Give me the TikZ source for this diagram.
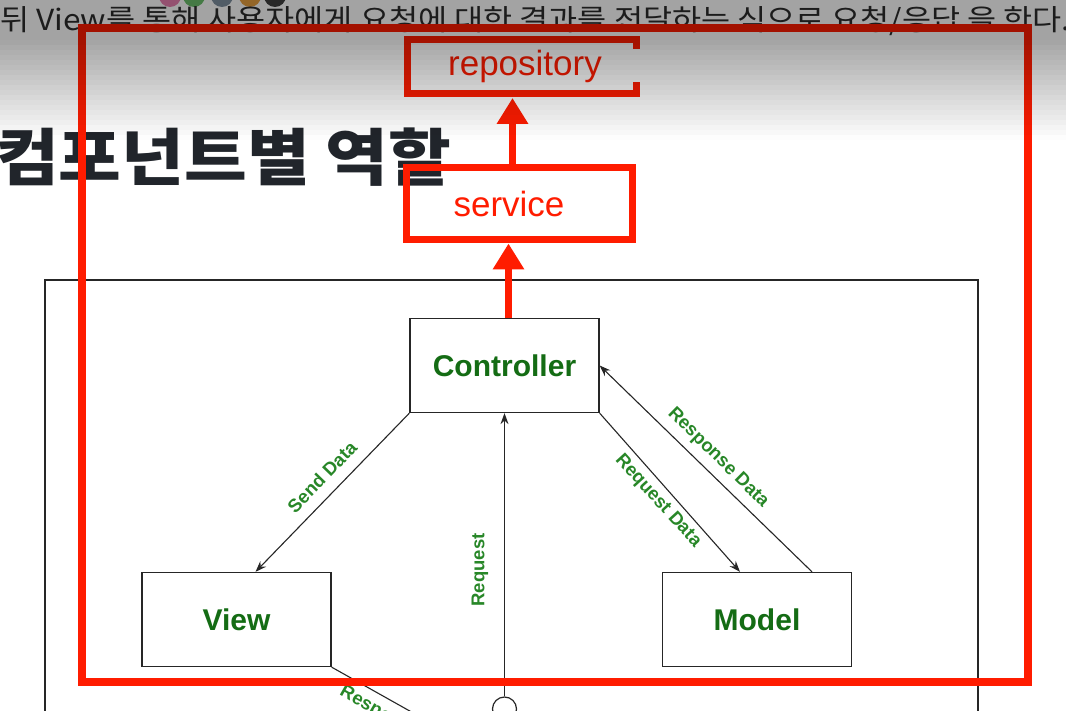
\documentclass[tikz,border=0pt]{standalone}
\usepackage{fontspec}
\setmainfont{Liberation Sans}
\newfontfamily\kr{Noto Sans CJK KR}
\usetikzlibrary{arrows.meta}
\definecolor{annred}{RGB}{255,28,0}
\definecolor{mvcgreen}{RGB}{20,108,20}
\definecolor{lblgreen}{RGB}{40,135,40}
\definecolor{headc}{RGB}{33,37,43}
\definecolor{introc}{RGB}{45,45,45}
\definecolor{dotA}{RGB}{232,127,176}
\definecolor{dotB}{RGB}{108,191,108}
\definecolor{dotC}{RGB}{128,144,160}
\definecolor{dotD}{RGB}{232,160,64}
\definecolor{dotE}{RGB}{64,64,64}
\tikzset{
  mvcbox/.style={draw=black!85, line width=1.3pt, fill=white, minimum width=189pt,
    minimum height=94pt, font=\bfseries\fontsize{30}{36}\selectfont, text=mvcgreen},
  conn/.style={draw=black!85, line width=1.1pt, -{Stealth[length=11pt,width=8pt]}},
  plainconn/.style={draw=black!85, line width=1.1pt},
  lbl/.style={font=\bfseries\fontsize{18.5}{21}\selectfont, text=lblgreen, inner sep=0pt},
  redbox/.style={draw=annred, line width=7pt, minimum width=226pt, minimum height=72pt,
    font=\fontsize{35}{40}\selectfont, text=annred},
  redtext/.style={font=\fontsize{35}{40}\selectfont, text=annred},
  redarrow/.style={draw=annred, line width=7pt, -{Triangle[length=26pt,width=30pt]}},
}
\begin{document}
\begin{tikzpicture}[x=1pt,y=-1pt]
\useasboundingbox (0,0) rectangle (1066,711);
\clip (0,0) rectangle (1066,711);
\fill[white] (0,0) rectangle (1066,711);

% browser decorations at top
\fill[dotA] (170,-4) circle (11pt);
\fill[dotB] (194,-4) circle (11pt);
\fill[dotC] (222,-4) circle (11pt);
\fill[dotD] (250,-4) circle (11pt);
\fill[dotE] (275,-4) circle (11pt);

% page text
\node[anchor=base west, inner sep=0pt, xscale=1.09, font=\kr\fontsize{29}{31}\selectfont, text=introc] (intro) at (0,31)
  {뒤 View를 통해 사용자에게 요청에 대한 결과를 전달하는 식으로 요청/응답 을 한다.};
\node[anchor=base west, inner sep=0pt, xscale=1.1, font=\kr\bfseries\fontsize{62}{70}\selectfont, text=headc] (title) at (-4,181)
  {컴포넌트별 역할};

% MVC frame
\draw[line width=1.2pt, black!85] (45,730) -- (45,280) -- (978,280) -- (978,730);

\node[mvcbox] (ctrl) at (504.5,365.5) {Controller};
\node[mvcbox] (view) at (236.5,619.5) {View};
\node[mvcbox] (model) at (757,619.5) {Model};
\node[circle, draw=black!85, line width=1.2pt, minimum size=24pt, inner sep=0pt] (circ) at (504.5,709) {};

\draw[conn] (ctrl.south west) -- ([xshift=19pt]view.north);
\draw[conn] (circ.north) -- (ctrl.south);
\draw[conn] (ctrl.south east) -- ([xshift=-17pt]model.north);
\draw[conn] ([xshift=55pt]model.north) -- (ctrl.east);
\coordinate (respEnd) at (440,728);
\draw[plainconn] (view.south east) -- (respEnd);

\node[lbl, rotate=46] (lsend) at (322,477) {Send Data};
\node[lbl, rotate=90] (lreq) at (480,570) {Request};
\node[lbl, rotate=-47.7] (lreqd) at (658,501) {Request Data};
\node[lbl, rotate=-44.6] (lresp) at (718,458) {Response Data};
\node[lbl, rotate=-30, anchor=west] (lresp2) at (341,691) {Response};

% red annotations
\draw[annred, line width=8pt] (82,28) rectangle (1028,682);
\node[redbox] (svc) at (519,204) {service\hspace*{20pt}};
\node[redtext] (repo) at (525,66) {repository};
\draw[annred, line width=7pt] (636,49) -- (636,40) -- (407,40) -- (407,94) -- (636,94) -- (636,82);
\coordinate (repoB) at (512.5,98);
\draw[redarrow] ([xshift=4pt]ctrl.north) -- ([xshift=-10.5pt]svc.south);
\draw[redarrow] ([xshift=-6.5pt]svc.north) -- (repoB);

% screen shading at top
\foreach \i in {0,...,29} {
  \pgfmathsetmacro{\yy}{\i*5+2.5}
  \pgfmathsetmacro{\op}{\yy<40 ? 0.36 : max(0,0.36*(140-\yy)/100)}
  \fill[black, opacity=\op] (0,\i*5) rectangle (1066,\i*5+5);
}
\end{tikzpicture}
\end{document}
